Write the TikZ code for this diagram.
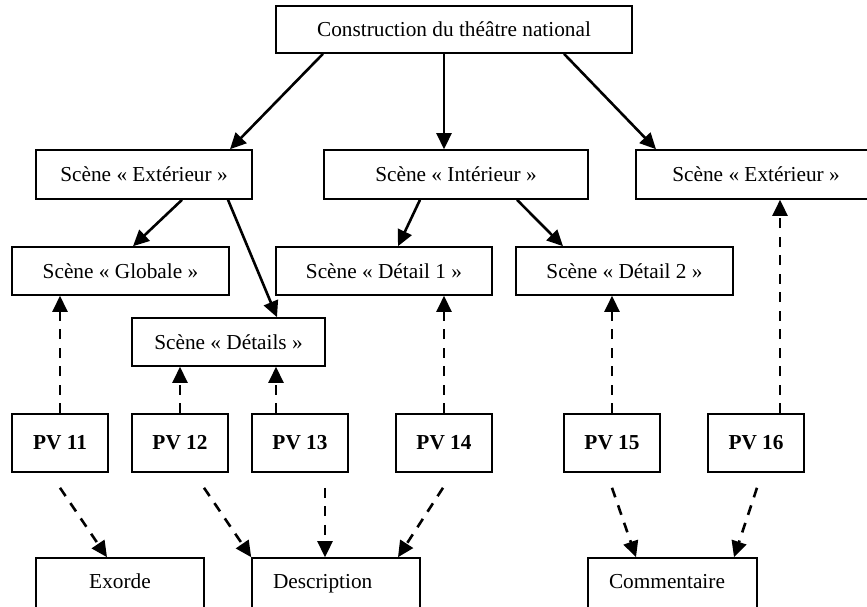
\documentclass[tikz,border=0pt]{standalone}
\usepackage{fontspec}
\setmainfont{Liberation Serif}
\usetikzlibrary{arrows.meta}

\begin{document}
\begin{tikzpicture}[x=1pt,y=-1pt,
  every node/.style={draw,line width=1.6pt,inner sep=0pt,font=\fontsize{21.3}{25}\selectfont},
  scene/.style={minimum height=48pt},
  pv/.style={minimum width=96pt,minimum height=58pt,font=\fontsize{21.3}{25}\selectfont\bfseries},
  partie/.style={minimum height=50pt,text height=14.5pt,text depth=4.5pt},
  gauche/.style={align=left,inner xsep=21pt,text width=#1},
  arr/.style={line width=2.6pt,-{Triangle[length=16pt,width=15pt]}},
  pointille/.style={arr,dash pattern=on 10pt off 8.5pt}]
\useasboundingbox (0,0) rectangle (867,606);

\node[minimum width=356pt,minimum height=47pt] (top) at (454,29.5) {Construction du théâtre national};

\node[scene,minimum width=216pt,minimum height=49pt] (extL) at (144,174.5) {Scène « Extérieur »};
\node[scene,minimum width=264pt,minimum height=49pt] (int) at (456,174.5) {Scène « Intérieur »};
\node[scene,minimum width=240pt,minimum height=49pt] (extR) at (756,174.5) {Scène « Extérieur »};

\node[scene,minimum width=217pt] (glob) at (120.5,271) {Scène « Globale »};
\node[scene,minimum width=216pt] (det1) at (384,271) {Scène « Détail 1 »};
\node[scene,minimum width=217pt] (det2) at (624.5,271) {Scène « Détail 2 »};
\node[scene,minimum width=193pt] (dets) at (228.5,342) {Scène « Détails »};

\foreach \n/\x in {11/60,12/180,13/300,14/444,15/612,16/756}
  \node[pv] (pv\n) at (\x,443) {PV \n};

\node[partie,minimum width=168pt] (exorde) at (120,583) {Exorde};
\node[partie,gauche=126pt] (descr) at (336,583) {Description};
\node[partie,gauche=127pt] (comm) at (672.5,583) {Commentaire};

\draw[arr] ([shift={(-131,0)}]top.south) -- ([shift={(86,0)}]extL.north);
\draw[arr] ([shift={(-10,0)}]top.south) -- ([shift={(-12,0)}]int.north);
\draw[arr] ([shift={(110,0)}]top.south) -- ([shift={(-100,0)}]extR.north);
\draw[arr] ([shift={(38,0)}]extL.south) -- ([shift={(12.5,0)}]glob.north);
\draw[arr] ([shift={(84,0)}]extL.south) -- ([shift={(48.5,0)}]dets.north);
\draw[arr] ([shift={(-36,0)}]int.south) -- ([shift={(14,0)}]det1.north);
\draw[arr] ([shift={(61,0)}]int.south) -- ([shift={(-61.5,0)}]det2.north);

\draw[pointille] (pv11.north) -- ([shift={(-60.5,0)}]glob.south);
\draw[pointille] (pv12.north) -- ([shift={(-48.5,0)}]dets.south);
\draw[pointille] ([shift={(-24,0)}]pv13.north) -- ([shift={(47.5,0)}]dets.south);
\draw[pointille] (pv14.north) -- ([shift={(60,0)}]det1.south);
\draw[pointille] (pv15.north) -- ([shift={(-12.5,0)}]det2.south);
\draw[pointille] ([shift={(24,0)}]pv16.north) -- ([shift={(24,0)}]extR.south);

\draw[pointille] ([shift={(0,15)}]pv11.south) -- ([shift={(-13,0)}]exorde.north);
\draw[pointille] ([shift={(24,15)}]pv12.south) -- (descr.north west);
\draw[pointille] ([shift={(25,15)}]pv13.south) -- ([shift={(-11,0)}]descr.north);
\draw[pointille] ([shift={(-1,15)}]pv14.south) -- ([shift={(62,0)}]descr.north);
\draw[pointille] ([shift={(0,15)}]pv15.south) -- ([shift={(-36.5,0)}]comm.north);
\draw[pointille] ([shift={(1,15)}]pv16.south) -- ([shift={(61.5,0)}]comm.north);

\end{tikzpicture}
\end{document}
